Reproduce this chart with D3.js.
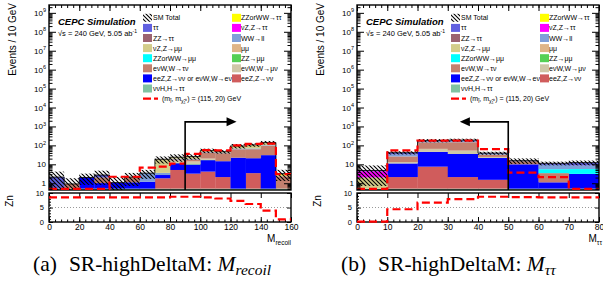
<!DOCTYPE html>
<html>
<head>
<meta charset="utf-8">
<script src="https://cdn.jsdelivr.net/npm/d3@7"></script>
<style>
body { margin: 0; background: #fff; }
text { font-family: 'Liberation Sans', Arial, sans-serif; }
</style>
</head>
<body>
<script>
// bin edges and tick labels
var recoilEdges = [0, 10, 20, 30, 40, 50, 60, 70, 80, 90, 100, 110, 120, 130, 140, 150, 160];
var recoilTicks = [0, 20, 40, 60, 80, 100, 120, 140, 160];
var mttEdges = [0, 10, 20, 30, 40, 50, 60, 70, 80];
var mttTicks = [0, 10, 20, 30, 40, 50, 60, 70, 80];

// legend labels (left column, right column)
var legendLeft = ['SM Total', 'ττ', 'ZZ→ττ', 'νZ,Z→μμ', 'ZZorWW→μμ', 'eνW,W→τν', 'eeZ,Z→νν or eνW,W→eν', 'ννH,H→ττ'];
var legendRight = ['ZZorWW→ττ', 'νZ,Z→ττ', 'WW→ll', 'μμ', 'ZZ→μμ', 'eνW,W→μν', 'eeZ,Z→νν'];

// M_recoil backgrounds, events per bin
var rec_vvH      = [.52, .52, .52, .52, .52, .52, .52, .52, .52, .52, .52, .52, .52, .52, .52, .52];
var rec_eeZvv    = [0, 0, 0, 0, 0, 0, 0, 1.3, 4.5, 2.7, 3.6, 1.6, 0, 2.9, 0, 0];
var rec_eeZenuW  = [0, 0, 1.5, .5, .56, .6, .68, .9, 6.4, 6.5, 12.5, 12.5, 22, 17.6, 30, 0];
var rec_ZZmumu   = [0, 0, 0, 0, 0, 0, 0, 0, .8, .5, .5, 0, 0, 0, 0, 0];
var rec_enuWmunu = [0, 0, 0, 0, 0, 0, 0, 0, 4, 4, 3, 0, 0, 0, 0, 0];
var rec_enuWtaunu = [0, .4, 0, 1.0, 0, 1.0, 0, 0, 2, 4, 22, 24, 40, 42, 63, 1.8];
var rec_WWll     = [0, 0, 0, 0, 0, 0, 2.2, .8, 1.5, 1.5, 3, 3, 6, 6, 8, 0];
var rec_vZmumu   = [0, 0, 0, 0, 0, 0, 0, 15, 4, 6, 8, 5, 25, 38, 40, .3];
var rec_ZZWWtautau = [0, 0, 0, 0, 0, 0, 0, 0, 0, 0, 0, 0, 0, 0, 0, .4];
var rec_tautau   = [1.6, 0, 0, .7, 0, 0, 0, 0, 0, 0, 0, 0, 0, 0, 0, .2];
var rec_err      = [2.0, .92, 1.2, 1.9, 1.1, 1.4, 1.7, 7.5, 10, 8, 14, 10, 25, 22, 30, 1.9];
var rec_signal   = [0, 0, 0, 0, 2.2, 2.2, 6.7, 7.5, 11, 36, 56, 55, 100, 120, 125, 3];
var rec_zn       = [8.5, 8.5, 8.5, 8.5, 8.5, 8.5, 8.5, 8.5, 8.7, 8.7, 8.5, 8.1, 7.3, 6.2, 3.9, 0.9];

// M_tautau backgrounds
var mtt_vvH      = [.52, .52, .52, .52, .52, .52, .52, .52];
var mtt_eeZvv    = [0, 1.6, 7, 1.6, 1.0, 0, 0, 0];
var mtt_eeZenuW  = [0, 9, 38, 33, 20, 9.5, .6, 2.6];
var mtt_enuWmunu = [0, 2, 20, 18, 3, 0, 0, 0];
var mtt_enuWtaunu = [0, 13, 80, 94, 8, 4.5, 2.3, 0];
var mtt_ZZWWmumu = [0, 0, 0, 0, 0, 0, 2.1, 2.5];
var mtt_WWll     = [0, 8, 25, 30, 4, 0, 3.8, 3];
var mtt_vZmumu   = [1.5, 0, 0, 0, 0, 0, 0, 0];
var mtt_vZtautau = [2.3, 0, 0, 0, 0, 0, 0, 0];
var mtt_tautau   = [.4, 7, 10, 13, 2.5, 1, 2, 3.7];
var mtt_err      = [4, 8, 35, 35, 7, 5, 2.5, 3.5];
var mtt_signal   = [0, 55, 180, 180, 63, 3.6, 2.1, 0];
var mtt_zn       = [0, 4.4, 6.7, 7.9, 8.7, 8.6, 8.5, 8.5];

var colTautau = '#6060e0', colZZtautau = '#9b6371', colVZmumu = '#d3cd8a', colCyan = '#00ffff',
    colEnuWtaunu = '#c3806f', colBlue = '#0000ff', colVvH = '#80c2a2', colYellow = '#ffff00',
    colMagenta = '#ff00ff', colWWll = '#7f9fd9', colMumu = '#dfb588', colZZmumu = '#55d055',
    colEnuWmunu = '#cfc7a8', colEeZvv = '#d05c5c';
var legendLeftColors = [null, colTautau, colZZtautau, colVZmumu, colCyan, colEnuWtaunu, colBlue, colVvH];
var legendRightColors = [colYellow, colMagenta, colWWll, colMumu, colZZmumu, colEnuWmunu, colEeZvv];

var ymin = 0.44, ymax = 2.6e9;

var svg = d3.select('body')
    .append('svg')
    .attr('width', 603)
    .attr('height', 286);

var defs = svg.append('defs');
defs.append('pattern')
    .attr('id', 'hatch')
    .attr('patternUnits', 'userSpaceOnUse')
    .attr('width', 4).attr('height', 4)
    .append('path')
    .attr('d', 'M-1,-1 L5,5 M-1,3 L1,5 M3,-1 L5,1')
    .attr('stroke', '#000')
    .attr('stroke-width', 1.1);

drawPanel({
    id: 'a', left: 49, edges: recoilEdges, ticks: recoilTicks, minorStep: 4,
    stack: [[colVvH, rec_vvH], [colEeZvv, rec_eeZvv], [colBlue, rec_eeZenuW], [colZZmumu, rec_ZZmumu],
            [colEnuWmunu, rec_enuWmunu], [colEnuWtaunu, rec_enuWtaunu], [colWWll, rec_WWll],
            [colVZmumu, rec_vZmumu], [colYellow, rec_ZZWWtautau], [colTautau, rec_tautau]],
    err: rec_err, signal: rec_signal, zn: rec_zn,
    cut: 90, arrowTo: 124, arrowAt: 1750,
    xTitle: 'M', xSub: 'recoil', tag: '(a)', captionSub: 'recoil'
});

drawPanel({
    id: 'b', left: 357, edges: mttEdges, ticks: mttTicks, minorStep: 2,
    stack: [[colVvH, mtt_vvH], [colEeZvv, mtt_eeZvv], [colBlue, mtt_eeZenuW], [colEnuWmunu, mtt_enuWmunu],
            [colEnuWtaunu, mtt_enuWtaunu], [colCyan, mtt_ZZWWmumu], [colWWll, mtt_WWll],
            [colVZmumu, mtt_vZmumu], [colMagenta, mtt_vZtautau], [colTautau, mtt_tautau]],
    err: mtt_err, signal: mtt_signal, zn: mtt_zn,
    cut: 50, arrowTo: 34, arrowAt: 1750,
    xTitle: 'M', xSub: 'ττ', tag: '(b)', captionSub: 'ττ'
});

function stepPath(x, yv, edges, vals) {
    var pts = [];
    vals.forEach(function(v, i) {
        pts.push([x(edges[i]), yv(v)]);
        pts.push([x(edges[i + 1]), yv(v)]);
    });
    return d3.line()(pts);
}

function drawPanel(p) {
    var x0 = p.left, x1 = p.left + 242;
    var x = d3.scaleLinear().domain([p.edges[0], p.edges[p.edges.length - 1]]).range([x0, x1]);
    var y = d3.scaleLog().domain([ymin, ymax]).range([190, 5]);
    var yz = d3.scaleLinear().domain([0, 10]).range([222, 193]);
    var nb = p.edges.length - 1;

    defs.append('clipPath').attr('id', 'clip' + p.id)
        .append('rect').attr('x', x0).attr('y', 5).attr('width', x1 - x0).attr('height', 185);
    var g = svg.append('g').attr('clip-path', 'url(#clip' + p.id + ')');

    // stacked backgrounds
    var cum = p.edges.slice(0, nb).map(function() { return 0; });
    p.stack.forEach(function(layer) {
        layer[1].forEach(function(v, i) {
            if (v <= 0) return;
            var lo = cum[i], hi = cum[i] + v;
            cum[i] = hi;
            if (hi <= ymin) return;
            g.append('rect')
                .attr('x', x(p.edges[i]))
                .attr('width', x(p.edges[i + 1]) - x(p.edges[i]) + 0.3)
                .attr('y', y(hi))
                .attr('height', y(Math.max(lo, ymin)) - y(hi))
                .attr('fill', layer[0]);
        });
    });

    // SM total uncertainty band
    cum.forEach(function(t, i) {
        var lo = Math.max(t - p.err[i], ymin), hi = t + p.err[i];
        g.append('rect')
            .attr('x', x(p.edges[i]))
            .attr('width', x(p.edges[i + 1]) - x(p.edges[i]))
            .attr('y', y(hi))
            .attr('height', y(lo) - y(hi))
            .attr('fill', 'url(#hatch)');
    });
    g.append('path')
        .attr('d', stepPath(x, y, p.edges, cum))
        .attr('fill', 'none').attr('stroke', '#000').attr('stroke-width', 0.8);

    // frames
    svg.append('rect').attr('x', x0).attr('y', 5).attr('width', x1 - x0).attr('height', 185)
        .attr('fill', 'none').attr('stroke', '#000').attr('stroke-width', 1.4);
    svg.append('rect').attr('x', x0).attr('y', 193).attr('width', x1 - x0).attr('height', 29)
        .attr('fill', 'none').attr('stroke', '#000').attr('stroke-width', 1.4);

    // signal
    svg.append('path')
        .attr('d', stepPath(x, y, p.edges, p.signal.map(function(v) { return Math.max(v, 0.5); })))
        .attr('fill', 'none').attr('stroke', '#ff0000').attr('stroke-width', 2.2)
        .attr('stroke-dasharray', '8,4');

    // ticks: upper pad
    var majors = [], minors = [];
    for (var e = -1; e <= 9; e++) {
        for (var k = 1; k <= 9; k++) {
            var v = k * Math.pow(10, e);
            if (v < ymin || v > ymax) continue;
            if (k == 1) majors.push(v); else minors.push(v);
        }
    }
    var xMinor = d3.range(p.edges[0], p.edges[nb] + 0.01, p.minorStep);
    function clean(a) { a.select('.domain').remove(); a.selectAll('line').attr('stroke', '#000'); }

    svg.append('g').attr('transform', 'translate(' + x0 + ',0)')
        .call(d3.axisLeft(y).tickValues(majors).tickSize(-7).tickFormat('')).call(clean);
    svg.append('g').attr('transform', 'translate(' + x0 + ',0)')
        .call(d3.axisLeft(y).tickValues(minors).tickSize(-3.5).tickFormat('')).call(clean);
    svg.append('g').attr('transform', 'translate(' + x1 + ',0)')
        .call(d3.axisRight(y).tickValues(majors).tickSize(-7).tickFormat('')).call(clean);
    svg.append('g').attr('transform', 'translate(' + x1 + ',0)')
        .call(d3.axisRight(y).tickValues(minors).tickSize(-3.5).tickFormat('')).call(clean);
    svg.append('g').attr('transform', 'translate(0,5)')
        .call(d3.axisTop(x).tickValues(p.ticks).tickSize(-6).tickFormat('')).call(clean);
    svg.append('g').attr('transform', 'translate(0,5)')
        .call(d3.axisTop(x).tickValues(xMinor).tickSize(-3).tickFormat('')).call(clean);

    // y labels 10^n
    majors.forEach(function(v) {
        var n = Math.round(Math.log10(v));
        var t = svg.append('text').attr('x', x0 - 3).attr('y', y(v) + 3)
            .attr('text-anchor', 'end').attr('font-size', 8);
        if (n == 0) t.text('1');
        else if (n == 1) t.text('10');
        else {
            t.append('tspan').text('10');
            t.append('tspan').attr('dy', -3.5).attr('font-size', 5.5).text(n);
        }
    });

    // ticks: lower pad
    svg.append('g').attr('transform', 'translate(0,222)')
        .call(d3.axisBottom(x).tickValues(p.ticks).tickSize(-5).tickPadding(2)).call(clean)
        .call(function(a) { a.attr('font-family', null).attr('font-size', 8.5); a.selectAll('text').attr('fill', '#000'); });
    svg.append('g').attr('transform', 'translate(0,222)')
        .call(d3.axisBottom(x).tickValues(xMinor).tickSize(-2.5).tickFormat('')).call(clean);
    svg.append('g').attr('transform', 'translate(0,193)')
        .call(d3.axisTop(x).tickValues(p.ticks).tickSize(-5).tickFormat('')).call(clean);
    svg.append('g').attr('transform', 'translate(' + x0 + ',0)')
        .call(d3.axisLeft(yz).tickValues([0, 5, 10]).tickSize(-4).tickPadding(5)).call(clean)
        .call(function(a) { a.attr('font-family', null).attr('font-size', 7.5); a.selectAll('text').attr('fill', '#000'); });
    svg.append('g').attr('transform', 'translate(' + x0 + ',0)')
        .call(d3.axisLeft(yz).tickValues(d3.range(0, 11, 1)).tickSize(-2).tickFormat('')).call(clean);
    svg.append('g').attr('transform', 'translate(' + x1 + ',0)')
        .call(d3.axisRight(yz).tickValues([0, 5, 10]).tickSize(-4).tickFormat('')).call(clean);

    // Zn panel
    svg.append('line').attr('x1', x0).attr('x2', x1).attr('y1', yz(5)).attr('y2', yz(5))
        .attr('stroke', '#999').attr('stroke-width', 1).attr('stroke-dasharray', '1,2');
    svg.append('path')
        .attr('d', stepPath(x, yz, p.edges, p.zn.map(function(v) { return Math.max(v, 0.1); })))
        .attr('fill', 'none').attr('stroke', '#ff0000').attr('stroke-width', 2.2)
        .attr('stroke-dasharray', '8,4');

    // cut line and arrow
    var ax = x(p.cut), ay = y(p.arrowAt), tip = x(p.arrowTo);
    var dir = tip > ax ? 1 : -1;
    svg.append('path')
        .attr('d', d3.line()([[ax, 190], [ax, ay], [tip - dir * 8, ay]]))
        .attr('fill', 'none').attr('stroke', '#000').attr('stroke-width', 1.6);
    svg.append('path')
        .attr('d', d3.line()([[tip, ay], [tip - dir * 10, ay - 4.5], [tip - dir * 10, ay + 4.5]]) + 'Z')
        .attr('fill', '#000');

    // labels
    svg.append('text').attr('transform', 'translate(' + (x0 - 33) + ',3) rotate(-90)')
        .attr('text-anchor', 'end').attr('font-size', 10).text('Events / 10 GeV');
    svg.append('text').attr('transform', 'translate(' + (x0 - 36) + ',201) rotate(-90)')
        .attr('text-anchor', 'middle').attr('font-size', 10).text('Zn');
    var xt = svg.append('text').attr('x', x1 + (p.id == 'b' ? 3 : 0)).attr('y', 242)
        .attr('text-anchor', 'end').attr('font-size', 10);
    xt.append('tspan').text(p.xTitle);
    xt.append('tspan').attr('dy', 3).attr('font-size', 6.5).text(p.xSub);

    svg.append('text').attr('x', x0 + 9).attr('y', 25)
        .attr('font-size', 9.5).attr('font-weight', 'bold').attr('font-style', 'italic')
        .text('CEPC Simulation');
    var lumi = svg.append('text').attr('x', x0 + 9).attr('y', 36).attr('font-size', 7.5);
    lumi.append('tspan').text('√s = 240 GeV, 5.05 ab');
    lumi.append('tspan').attr('dy', -3).attr('font-size', 5).text('-1');

    // legend
    var rowY = function(i) { return 17.8 + i * 10.1; };
    legendLeft.forEach(function(name, i) {
        svg.append('rect').attr('x', x0 + 94).attr('y', rowY(i) - 4).attr('width', 9).attr('height', 8)
            .attr('fill', legendLeftColors[i] || 'url(#hatch)');
        svg.append('text').attr('x', x0 + 104).attr('y', rowY(i) + 2.5).attr('font-size', 7).text(name);
    });
    legendRight.forEach(function(name, i) {
        svg.append('rect').attr('x', x0 + 183).attr('y', rowY(i) - 4).attr('width', 9).attr('height', 8)
            .attr('fill', legendRightColors[i]);
        svg.append('text').attr('x', x0 + 192).attr('y', rowY(i) + 2.5).attr('font-size', 7).text(name);
    });
    svg.append('line').attr('x1', x0 + 94).attr('x2', x0 + 109).attr('y1', rowY(8)).attr('y2', rowY(8))
        .attr('stroke', '#ff0000').attr('stroke-width', 2.2).attr('stroke-dasharray', '8,3');
    var sl = svg.append('text').attr('x', x0 + 113).attr('y', rowY(8) + 2.5).attr('font-size', 7);
    sl.append('tspan').text('(m');
    sl.append('tspan').attr('dy', 2).attr('font-size', 5).text('l̃');
    sl.append('tspan').attr('dy', -2).text(', m');
    sl.append('tspan').attr('dy', 2).attr('font-size', 5).text('χ̃₁⁰');
    sl.append('tspan').attr('dy', -2).text(') = (115, 20) GeV');

    // caption
    var cap = svg.append('text').attr('x', x0 - 16).attr('y', 271)
        .attr('font-size', 21.5).style('font-family', "'Liberation Serif', 'Times New Roman', serif");
    cap.append('tspan').text(p.tag);
    cap.append('tspan').attr('dx', 12).text('SR-highDeltaM: ');
    cap.append('tspan').attr('font-style', 'italic').text('M');
    cap.append('tspan').attr('font-style', 'italic').attr('dy', 4).attr('font-size', 15.5).text(p.captionSub);
}
</script>
</body>
</html>
